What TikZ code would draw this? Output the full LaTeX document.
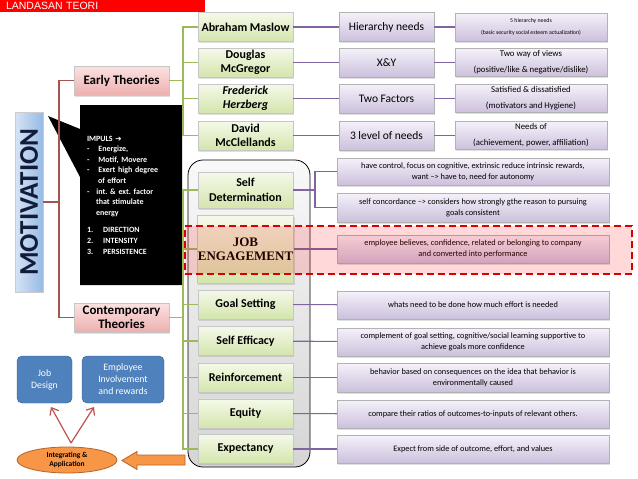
\documentclass[tikz,border=0pt]{standalone}
\usepackage{fontspec}
\setmainfont{Carlito}
\newfontfamily\titlefont{Liberation Sans}
\newfontfamily\jefont{Liberation Serif}
\newfontfamily\symfont{DejaVu Sans}
\usetikzlibrary{shapes.callouts,shapes.geometric,shadows,arrows.meta}
\definecolor{titlered}{RGB}{255,0,0}
\definecolor{treered}{RGB}{165,85,80}
\definecolor{treegreen}{RGB}{155,187,89}
\definecolor{treepurple}{RGB}{128,100,162}
\definecolor{greenA}{RGB}{244,249,233}
\definecolor{greenB}{RGB}{212,229,172}
\definecolor{pinkA}{RGB}{252,226,226}
\definecolor{pinkB}{RGB}{236,176,174}
\definecolor{purpA}{RGB}{245,241,250}
\definecolor{purpB}{RGB}{204,192,220}
\definecolor{motivA}{RGB}{214,228,246}
\definecolor{motivB}{RGB}{150,186,228}
\definecolor{navytext}{RGB}{18,28,58}
\definecolor{bluebox}{RGB}{79,129,189}
\definecolor{blueedge}{RGB}{56,93,138}
\definecolor{orangeA}{RGB}{247,150,70}
\definecolor{orangeD}{RGB}{182,100,40}
\definecolor{arrowred}{RGB}{192,80,77}
\begin{document}
\begin{tikzpicture}[x=1pt,y=-1pt,
  shade/.style={drop shadow={opacity=0.25,shadow xshift=1pt,shadow yshift=-1.5pt}},
  theorybox/.style={draw=gray!45, top color=greenA, bottom color=greenB, shade,
    minimum width=95pt, minimum height=29pt, inner sep=0.5pt, align=center,
    font=\fontsize{12}{14.5}\selectfont\bfseries},
  groupbox/.style={draw=gray!45, top color=pinkA, bottom color=pinkB, shade,
    minimum width=95pt, minimum height=29pt, inner sep=0.5pt, align=center,
    font=\fontsize{13}{14.5}\selectfont\bfseries},
  midbox/.style={draw=gray!60, top color=purpA, bottom color=purpB, shade,
    minimum width=95pt, minimum height=29pt, inner sep=0.5pt, align=center,
    font=\fontsize{11.5}{13}\selectfont},
  notebox/.style={draw=gray!60, top color=purpA, bottom color=purpB, shade,
    minimum width=#1, minimum height=28pt, inner sep=0.5pt, align=center,
    font=\fontsize{8.3}{11}\selectfont},
  notebox/.default=272pt,
  bluebx/.style={draw=blueedge, fill=bluebox, rounded corners=5pt, text=white,
    minimum height=47pt, inner sep=1pt, align=center, font=\fontsize{9.8}{12}\selectfont},
  redline/.style={draw=treered, line width=1.1pt},
  greenline/.style={draw=treegreen, line width=1.1pt},
  purpleline/.style={draw=treepurple, line width=1.1pt},
  forkarrow/.style={draw=arrowred, line width=1.2pt, -{Straight Barb[length=6pt,width=10pt]}}]
\useasboundingbox (0,0) rectangle (638,479);

\node[fill=titlered, text=white, minimum height=12pt, inner ysep=0pt, inner xsep=6pt,
  text width=193pt, align=left, font=\titlefont\fontsize{10.5}{11}\selectfont] (title) at (102.5,6) {LANDASAN TEORI};

\node[draw=gray!40, left color=motivA, right color=motivB, minimum width=28pt, minimum height=180pt,
  inner sep=0pt, text=navytext, font=\fontsize{27}{27}\selectfont\bfseries] (motiv) at (29,202) {\rotatebox{90}{MOTIVATION}};

\node[rectangle callout, fill=black, text=white, minimum width=102pt, minimum height=180pt,
  text width=88pt, inner xsep=7pt, align=left, callout absolute pointer={(48,116)},
  callout pointer width=48pt, font=\fontsize{8}{10.6}\selectfont\bfseries] (impuls) at (131,195) {%
IMPULS {\symfont\fontsize{7.5}{8}\selectfont ➔}\\
-\hspace{9pt}Energize,\\
-\hspace{9pt}Motif, Movere\\
-\hspace{9pt}Exert high degree\\
\hspace*{11pt}of effort\\
-\hspace{7pt}int.~\&~ext.~factor\\
\hspace*{9pt}that stimulate\\
\hspace*{9pt}energy\\[7pt]
1.\hspace{10pt}DIRECTION\\
2.\hspace{10pt}INTENSITY\\
3.\hspace{10pt}PERSISTENCE};

\node[groupbox] (early) at (121.5,80.5) {Early Theories};
\node[groupbox] (contemp) at (121.5,317.5) {Contemporary\\Theories};

\node[draw=black, line width=0.8pt, rounded corners=15pt, top color=gray!5, bottom color=gray!33,
  minimum width=122pt, minimum height=307pt] (contgroup) at (249,313.5) {};

\node[theorybox] (maslow) at (245.5,27) {Abraham Maslow};
\node[theorybox] (douglas) at (245.5,62.5) {Douglas\\McGregor};
\node[theorybox] (herzberg) at (245.5,98.5) {\textit{Frederick}\\\textit{Herzberg}};
\node[theorybox] (david) at (245.5,135.5) {David\\McClellands};

\node[midbox] (hier) at (386.5,27) {Hierarchy needs};
\node[midbox] (xy) at (386.5,62.5) {X\&Y};
\node[midbox] (twof) at (386.5,98.5) {Two Factors};
\node[midbox] (threel) at (386.5,135.5) {3 level of needs};

\node[notebox=152pt, font=\fontsize{5.8}{12}\selectfont] (hierN) at (531,27) {5 hierarchy needs\\(basic security social esteem actualization)};
\node[notebox=152pt, font=\fontsize{8.8}{16}\selectfont] (xyN) at (531,62.5) {Two way of views\\(positive/like \& negative/dislike)};
\node[notebox=152pt, font=\fontsize{8.8}{16}\selectfont] (twofN) at (531,98.5) {Satisfied \& dissatisfied\\(motivators and Hygiene)};
\node[notebox=152pt, font=\fontsize{8.8}{16}\selectfont] (threelN) at (531,135.5) {Needs of\\(achievement, power, affiliation)};

\node[theorybox, minimum height=36pt] (sd) at (245.5,190) {Self\\Determination};
\node[theorybox, minimum height=68pt, font=\jefont\fontsize{13}{14}\selectfont\bfseries, text=black] (je) at (245.5,249) {JOB\\ENGAGEMENT};
\node[theorybox] (goal) at (245.5,304.5) {Goal Setting};
\node[theorybox] (effic) at (245.5,341) {Self Efficacy};
\node[theorybox] (reinf) at (245.5,377.5) {Reinforcement};
\node[theorybox] (equity) at (245.5,413.5) {Equity};
\node[theorybox] (expect) at (245.5,449) {Expectancy};

\node[notebox, minimum height=27pt] (sdA) at (473,171.5) {have control, focus on cognitive, extrinsic reduce intrinsic rewards,\\want --> have to, need for autonomy};
\node[notebox, minimum height=29pt] (sdB) at (473,207.5) {self concordance --> considers how strongly gthe reason to pursuing\\goals consistent};
\node[notebox] (jeN) at (473,249) {employee believes, confidence, related or belonging to company\\and converted into performance};
\node[notebox] (goalN) at (473,305) {whats need to be done how much effort is needed};
\node[notebox] (efficN) at (473,342) {complement of goal setting, cognitive/social learning supportive to\\achieve goals more confidence};
\node[notebox, minimum height=29pt] (reinfN) at (473,377.5) {behavior based on consequences on the idea that behavior is\\environmentally caused};
\node[notebox] (equityN) at (473,414) {compare their ratios of outcomes-to-inputs of relevant others.};
\node[notebox] (expectN) at (473,449) {Expect from side of outcome, effort, and values};

\coordinate (rt) at (59,202);
\draw[redline] (motiv.east) -- (rt);
\draw[redline] (early.west) -| (rt) |- (contemp.west);

\coordinate (gt1) at (183,80.5);
\coordinate (gt2) at (183,317.5);
\draw[greenline] (early.east) -- (gt1);
\draw[greenline] (maslow.west) -| (gt1) |- (david.west);
\draw[greenline] (contemp.east) -- (gt2);
\draw[greenline] (sd.west) -| (gt2) |- (expect.west);
\foreach \n in {douglas,herzberg,je,goal,effic,reinf,equity}
  \draw[greenline] (\n.west) -- (\n.west -| gt1);

\foreach \a/\b in {maslow/hier,douglas/xy,herzberg/twof,david/threel,hier/hierN,xy/xyN,twof/twofN,threel/threelN,
  je/jeN,goal/goalN,effic/efficN,reinf/reinfN,equity/equityN,expect/expectN}
  \draw[purpleline] (\a) -- (\b);
\coordinate (sdfork) at (315,190);
\draw[purpleline] (sd.east) -- (sdfork);
\draw[purpleline] (sdA.west) -| (sdfork) |- (sdB.west);

\node[draw=red!85!black, line width=1.6pt, dash pattern=on 7pt off 4pt, fill=red, fill opacity=0.15,
  draw opacity=1, minimum width=447pt, minimum height=48pt] (jezone) at (408.5,250) {};

\node[bluebx, minimum width=55pt] (jobd) at (44.5,379.5) {Job\\Design};
\node[bluebx, minimum width=82pt] (involve) at (123,379.5) {Employee\\Involvement\\and rewards};

\node[ellipse, draw=orangeD, fill=orangeA, line width=0.8pt, minimum width=100pt, minimum height=26pt,
  inner sep=0pt, align=center, font=\fontsize{7.5}{9.5}\selectfont\bfseries] (integ) at (67,460) {Integrating \&\\Application};

\coordinate (fork) at (71,443);
\coordinate (jdtip) at (51,407);
\coordinate (eitip) at (94,407);
\draw[forkarrow] (fork) -- (jdtip);
\draw[forkarrow] (fork) -- (eitip);

\draw[draw=orangeD, fill=orangeA, line width=0.8pt] (185,455) -- (137,455) -- (137,451.5) -- (122,460.5)
  -- (137,469.5) -- (137,465) -- (185,465) -- cycle;
\end{tikzpicture}
\end{document}
